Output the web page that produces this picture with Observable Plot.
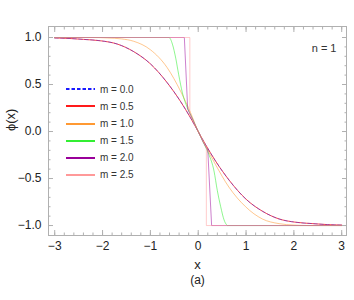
<!DOCTYPE html>
<html><head><meta charset="utf-8">
<script src="https://cdn.jsdelivr.net/npm/d3@7"></script>
<script src="https://cdn.jsdelivr.net/npm/@observablehq/plot@0.6"></script>
<style>
body{margin:0;background:#fff;font-family:"Liberation Sans",Arial,sans-serif;}
#wrap{position:relative;width:354px;height:300px;}
#legend{position:absolute;left:66px;top:80.7px;font-size:10px;color:#333;}
.row{height:17.15px;display:flex;align-items:center;white-space:pre;}
.row svg{margin-right:5px;}
</style></head><body><div id="wrap"><div id="chart"></div><div id="legend"></div></div>
<script>
// series labels and colours
const mLabels = ["m = 0.0","m = 0.5","m = 1.0","m = 1.5","m = 2.0","m = 2.5"];
const colors  = ["#1a1aff","#ff1a1a","#ff9933","#33ee33","#990099","#ff9999"];
const panelNote = "n = 1";
const caption = "(a)";

// tick labels
const xTicks = [-3,-2,-1,0,1,2,3];
const xTickLabels = ["−3","−2","−1","0","1","2","3"];
const yTicks = [-1,-0.5,0,0.5,1];
const yTickLabels = ["−1.0","−0.5","0.0","0.5","1.0"];

// m = 0.0 (dashed, overlaps m = 0.5)
const x_m00 = [-3,-2.7,-2.4,-2.04,-1.69,-1.35,-1.0,-0.65,-0.37,-0.16,0,0.16,0.37,0.65,1.0,1.35,1.69,2.04,2.4,2.7,3];
const y_m00 = [0.995,0.99,0.98,0.965,0.93,0.85,0.72,0.52,0.32,0.145,0,-0.145,-0.32,-0.52,-0.72,-0.85,-0.93,-0.965,-0.98,-0.99,-0.995];
// m = 0.5
const x_m05 = [-3,-2.7,-2.4,-2.04,-1.69,-1.35,-1.0,-0.65,-0.37,-0.16,0,0.16,0.37,0.65,1.0,1.35,1.69,2.04,2.4,2.7,3];
const y_m05 = [0.995,0.99,0.98,0.965,0.93,0.85,0.72,0.52,0.32,0.145,0,-0.145,-0.32,-0.52,-0.72,-0.85,-0.93,-0.965,-0.98,-0.99,-0.995];
// m = 1.0
const x_m10 = [-3,-2.2,-1.9,-1.6,-1.35,-1.0,-0.65,-0.37,-0.16,0,0.16,0.36,0.64,0.99,1.34,1.69,2.0,2.3,3];
const y_m10 = [1,1,0.995,0.985,0.96,0.87,0.68,0.43,0.2,0,-0.16,-0.35,-0.59,-0.80,-0.93,-0.98,-0.995,-1,-1];
// m = 1.5
const x_m15 = [-3,-0.61,-0.54,-0.47,-0.41,-0.33,-0.23,-0.13,0,0.13,0.22,0.33,0.4,0.47,0.54,0.59,0.61,3];
const y_m15 = [1,1,0.93,0.78,0.61,0.41,0.255,0.145,0,-0.14,-0.24,-0.42,-0.63,-0.80,-0.94,-0.99,-1,-1];
// m = 2.0
const x_m20 = [-3,-0.29,-0.22,-0.1,0,0.1,0.2,0.28,3];
const y_m20 = [1,1,0.24,0.11,0,-0.11,-0.2,-1,-1];
// m = 2.5
const x_m25 = [-3,-0.175,-0.175,0,0.17,0.17,3];
const y_m25 = [1,1,0.18,0,-0.17,-1,-1];

const series = [[x_m00,y_m00],[x_m05,y_m05],[x_m10,y_m10],[x_m15,y_m15],[x_m20,y_m20],[x_m25,y_m25]];
const curves = ["monotone-x","monotone-x","monotone-x","monotone-x","linear","linear"];
const rows = series.map(([xs,ys],i)=>xs.map((x,j)=>({m:mLabels[i], x, y:ys[j]})));

const xMinor = d3.range(-3,3.0001,0.2).map(v=>+v.toFixed(2));
const yMinor = d3.range(-1,1.0001,0.1).map(v=>+v.toFixed(2));
const gray = "#b0b0b0";
const tf = (ticks, labels) => d => labels[ticks.indexOf(d)] ?? "";

const lineMark = (i, extra) => Plot.line(rows[i], {x:"x", y:"y", stroke:colors[i], strokeWidth:1, curve:curves[i], ...extra});

const chart = Plot.plot({
  width:354, height:300,
  marginLeft:48, marginRight:8, marginTop:26, marginBottom:65,
  style:{fontFamily:"'Liberation Sans', Arial, sans-serif", background:"#fff"},
  x:{domain:[-3.13,3.1]},
  y:{domain:[-1.106,1.117]},
  marks:[
    lineMark(1, {strokeOpacity:0.8}),
    lineMark(0, {strokeDasharray:"3.5,2.5", strokeOpacity:0.4}),
    lineMark(2, {strokeOpacity:0.55}),
    lineMark(3, {strokeOpacity:0.55}),
    lineMark(4, {strokeOpacity:0.5}),
    lineMark(5, {strokeOpacity:0.5}),
    Plot.frame({stroke:gray}),
    // x axis labels
    Plot.axisX({anchor:"bottom", ticks:xTicks, tickSize:0, tickPadding:6, tickFormat:tf(xTicks,xTickLabels), fontSize:12, fill:"#222", label:null}),
    // inward ticks
    Plot.axisX({anchor:"bottom", ticks:xTicks, tickSize:-5, tickFormat:()=>"", stroke:gray, label:null}),
    Plot.axisX({anchor:"bottom", ticks:xMinor, tickSize:-2.5, tickFormat:()=>"", stroke:gray, label:null}),
    Plot.axisX({anchor:"top", ticks:xTicks, tickSize:-5, tickFormat:()=>"", stroke:gray, label:null}),
    Plot.axisX({anchor:"top", ticks:xMinor, tickSize:-2.5, tickFormat:()=>"", stroke:gray, label:null}),
    Plot.axisY({anchor:"left", ticks:yTicks, tickSize:0, tickPadding:7, tickFormat:tf(yTicks,yTickLabels), fontSize:12, fill:"#222", label:null}),
    Plot.axisY({anchor:"left", ticks:yTicks, tickSize:-5, tickFormat:()=>"", stroke:gray, label:null}),
    Plot.axisY({anchor:"left", ticks:yMinor, tickSize:-2.5, tickFormat:()=>"", stroke:gray, label:null}),
    Plot.axisY({anchor:"right", ticks:yTicks, tickSize:-5, tickFormat:()=>"", stroke:gray, label:null}),
    Plot.axisY({anchor:"right", ticks:yMinor, tickSize:-2.5, tickFormat:()=>"", stroke:gray, label:null}),
    // axis titles and notes
    Plot.text(["ϕ(x)"], {frameAnchor:"left", rotate:-90, dx:-38, fontSize:13, fill:"#222"}),
    Plot.text(["x"], {frameAnchor:"bottom", dy:33, fontSize:13, fill:"#222"}),
    Plot.text([caption], {frameAnchor:"bottom", dy:48, fontSize:12, fill:"#222"}),
    Plot.text([panelNote], {frameAnchor:"top-right", dx:-10, dy:18, fontSize:11, fill:"#333"})
  ]
});
document.getElementById("chart").appendChild(chart);

// legend
const leg = document.getElementById("legend");
mLabels.forEach((lab,i)=>{
  const row = document.createElement("div");
  row.className = "row";
  const dash = i===0 ? ' stroke-dasharray="3.5,2"' : '';
  row.innerHTML = `<svg width="29" height="4"><line x1="0" y1="2" x2="29" y2="2" stroke="${colors[i]}" stroke-width="2"${dash}/></svg><span>${lab}</span>`;
  leg.appendChild(row);
});
</script></body></html>
